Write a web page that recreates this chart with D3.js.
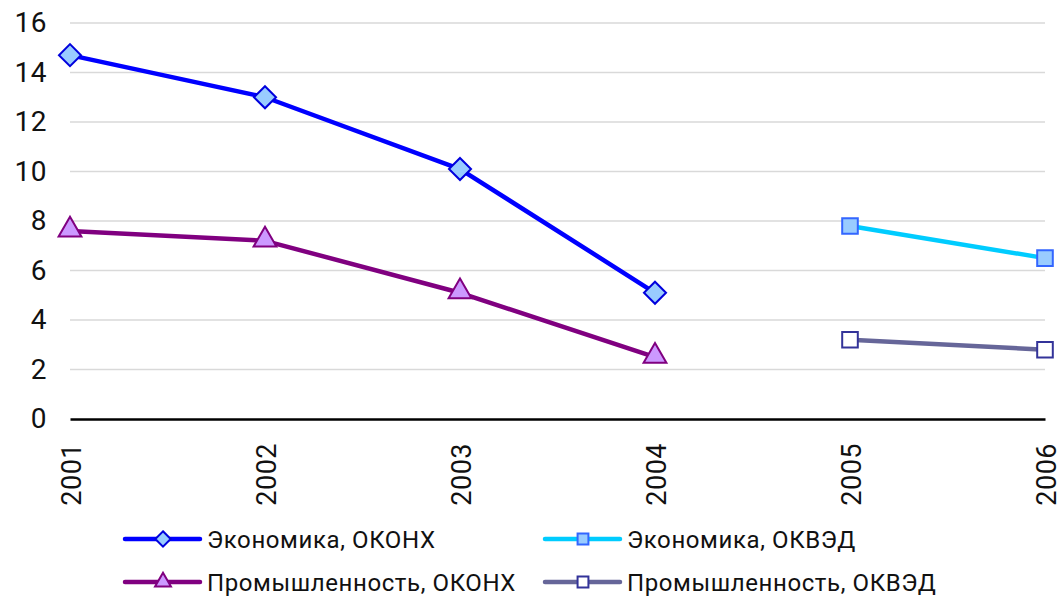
<!DOCTYPE html>
<html>
<head>
<meta charset="utf-8">
<script src="https://cdn.jsdelivr.net/npm/d3@7"></script>
<style>
body { margin: 0; background: #fff; }
text { font-family: Roboto, "Noto Sans", sans-serif; }
</style>
</head>
<body>
<script>
var w = 1063;
var h = 598;

// Data
var years = ["2001", "2002", "2003", "2004", "2005", "2006"];
var econOkonh = [14.7, 13.0, 10.1, 5.1, null, null];
var econOkved = [null, null, null, null, 7.8, 6.5];
var indOkonh = [7.6, 7.2, 5.1, 2.5, null, null];
var indOkved = [null, null, null, null, 3.2, 2.8];
var yTicks = [0, 2, 4, 6, 8, 10, 12, 14, 16];

var series = [
    {name: "Экономика, ОКОНХ", values: econOkonh, line: "#0000ff", fill: "#99ccff", stroke: "#0000dd", shape: "diamond"},
    {name: "Экономика, ОКВЭД", values: econOkved, line: "#00ccff", fill: "#99ccff", stroke: "#3366ff", shape: "square"},
    {name: "Промышленность, ОКОНХ", values: indOkonh, line: "#800080", fill: "#cc99ff", stroke: "#800080", shape: "triangle"},
    {name: "Промышленность, ОКВЭД", values: indOkved, line: "#666699", fill: "#ffffff", stroke: "#333399", shape: "square"}
];

var svg = d3.select("body")
            .append("svg")
            .attr("width", w)
            .attr("height", h);

var xScale = d3.scalePoint()
               .domain(years)
               .range([70, 1045]);

var yScale = d3.scaleLinear()
               .domain([0, 16])
               .range([419, 23]);

// gridlines
svg.append("g")
    .selectAll("line")
    .data(yTicks.slice(1))
    .enter()
    .append("line")
    .attr("x1", 70)
    .attr("x2", 1045)
    .attr("y1", function(d) { return yScale(d); })
    .attr("y2", function(d) { return yScale(d); })
    .attr("stroke", "#d9d9d9")
    .attr("stroke-width", 1.5);

// y axis labels
var yAxis = d3.axisLeft(yScale).tickValues(yTicks).tickSize(0).tickPadding(0);
var gy = svg.append("g")
    .attr("transform", "translate(47,0)")
    .call(yAxis);
gy.select(".domain").remove();
gy.selectAll("text")
    .attr("font-size", "28px")
    .attr("fill", "#111")
    .attr("letter-spacing", "0.5px")
    .attr("font-family", "Roboto, sans-serif");

// x axis
var xAxis = d3.axisBottom(xScale).tickSize(0).tickPadding(0);
var gx = svg.append("g")
    .attr("transform", "translate(0," + yScale(0) + ")")
    .call(xAxis);
gx.select(".domain")
    .attr("stroke", "#000")
    .attr("stroke-width", 2.5);
gx.selectAll("text")
    .attr("font-size", "27px")
    .attr("fill", "#111")
    .attr("letter-spacing", "0.5px")
    .attr("font-family", "Roboto, sans-serif")
    .attr("text-anchor", "end")
    .attr("dy", null)
    .attr("y", 0)
    .attr("transform", "translate(10,24) rotate(-90)");

function markerPath(shape, s) {
    if (shape === "diamond") return d3.symbol().type(d3.symbolDiamond2).size(s * 1.0)();
    if (shape === "triangle") return d3.symbol().type(d3.symbolTriangle2).size(s * 1.2)();
    return d3.symbol().type(d3.symbolSquare2).size(s * 1.0)();
}

var line = d3.line()
    .defined(function(d) { return d != null; })
    .x(function(d, i) { return xScale(years[i]); })
    .y(function(d) { return yScale(d); });

series.forEach(function(s) {
    svg.append("path")
        .datum(s.values)
        .attr("d", line)
        .attr("fill", "none")
        .attr("stroke", s.line)
        .attr("stroke-width", 4.5)
        .attr("stroke-linejoin", "round");

    svg.append("g")
        .selectAll("path")
        .data(s.values.map(function(v, i) { return {v: v, i: i}; }).filter(function(d) { return d.v != null; }))
        .enter()
        .append("path")
        .attr("d", markerPath(s.shape, 310))
        .attr("transform", function(d) {
            var dy = s.shape === "triangle" ? -1 : 0;
            return "translate(" + xScale(years[d.i]) + "," + (yScale(d.v) + dy) + ")";
        })
        .attr("fill", s.fill)
        .attr("stroke", s.stroke)
        .attr("stroke-width", 2);
});

// legend
var legendPos = [[125, 539], [545, 539], [125, 582], [545, 582]];
var legend = svg.append("g")
    .selectAll("g")
    .data(series)
    .enter()
    .append("g")
    .attr("transform", function(d, i) { return "translate(" + legendPos[i][0] + "," + legendPos[i][1] + ")"; });

legend.append("line")
    .attr("x1", 0)
    .attr("x2", 75)
    .attr("stroke", function(d) { return d.line; })
    .attr("stroke-width", 4.5)
    .attr("stroke-linecap", "round");

legend.append("path")
    .attr("d", function(d) { return markerPath(d.shape, 150); })
    .attr("transform", "translate(38,0)")
    .attr("fill", function(d) { return d.fill; })
    .attr("stroke", function(d) { return d.stroke; })
    .attr("stroke-width", 2);

legend.append("text")
    .attr("x", 82)
    .attr("y", 0)
    .attr("dy", "0.36em")
    .attr("font-size", "24px")
    .attr("letter-spacing", "0.6px")
    .attr("fill", "#111")
    .text(function(d) { return d.name; });
</script>
</body>
</html>
